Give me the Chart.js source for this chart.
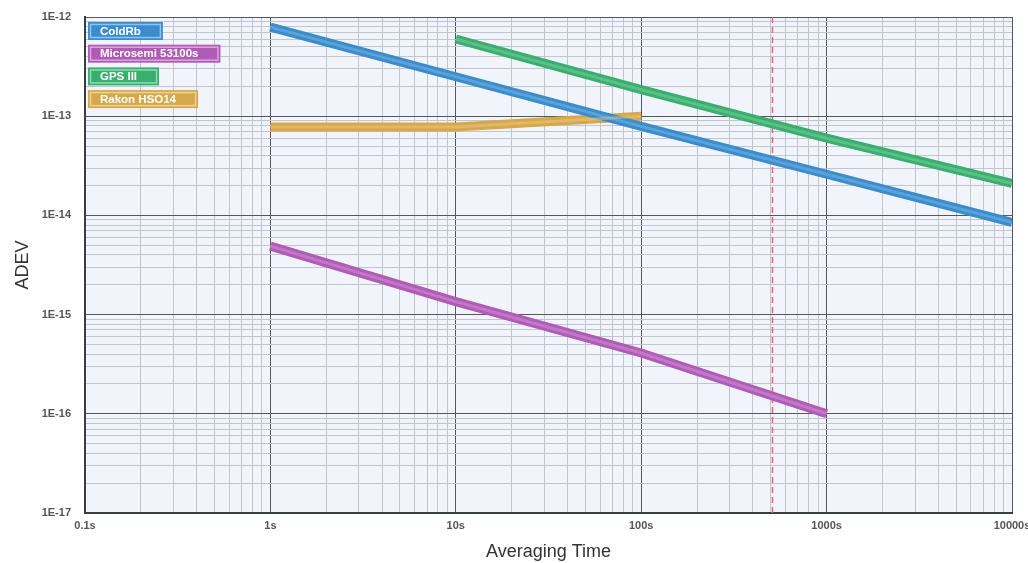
<!DOCTYPE html>
<html>
<head>
<meta charset="utf-8">
<script src="https://cdn.jsdelivr.net/npm/chart.js@4/dist/chart.umd.min.js"></script>
<style>
  html, body { margin: 0; padding: 0; background: #fff; }
  #wrap { width: 1028px; height: 563px; }
</style>
</head>
<body>
<div id="wrap"><canvas id="adevChart" width="1028" height="563"></canvas></div>
<script>
// averaging times (s) and ADEV values
const coldRbTau = [1, 10, 100, 1000, 10000];
const coldRbAdev = [7.9e-13, 2.5e-13, 7.9e-14, 2.6e-14, 8.5e-15];

const microsemiTau = [1, 10, 100, 1000];
const microsemiAdev = [4.9e-15, 1.35e-15, 4.1e-16, 1.0e-16];

const gpsTau = [10, 100, 1000, 10000];
const gpsAdev = [6.0e-13, 1.85e-13, 6.0e-14, 2.1e-14];

const rakonTau = [1, 10, 100];
const rakonAdev = [7.8e-14, 7.8e-14, 1.0e-13];

const markerTau = [500];

const xDecades = [0.1, 1, 10, 100, 1000, 10000];
const xTickLabels = ['0.1s', '1s', '10s', '100s', '1000s', '10000s'];
const yDecades = [1e-17, 1e-16, 1e-15, 1e-14, 1e-13, 1e-12];
const yTickLabels = ['1E-17', '1E-16', '1E-15', '1E-14', '1E-13', '1E-12'];

function toPoints(xs, ys){
  return xs.map((x, i) => ({ x: x, y: ys[i] }));
}

function isDecade(v){
  const l = Math.log10(v);
  return Math.abs(l - Math.round(l)) < 1e-6;
}

// decades plus 2..9 sub-ticks
function logTicks(decades){
  const out = [];
  decades.forEach((d, i) => {
    out.push({ value: d });
    if(i < decades.length - 1){
      for(let k = 2; k <= 9; k++) out.push({ value: +(d * k).toPrecision(6) });
    }
  });
  return out;
}

function makeSet(label, color, light, xs, ys){
  return {
    label: label, data: toPoints(xs, ys),
    borderColor: color, backgroundColor: color, lightColor: light,
    borderWidth: 9, pointRadius: 0, tension: 0, fill: false, borderCapStyle: 'butt'
  };
}

// plot background + dashed marker
const plotBg = {
  id: 'plotBg',
  beforeDraw(chart){
    const a = chart.chartArea, c = chart.ctx;
    c.save();
    c.fillStyle = '#f1f5fb';
    c.fillRect(a.left, a.top, a.right - a.left, a.bottom - a.top);
    c.restore();
  },
  beforeDatasetsDraw(chart){
    const a = chart.chartArea, c = chart.ctx, xs = chart.scales.x;
    c.save();
    c.strokeStyle = '#ee5f70';
    c.lineWidth = 1.5;
    c.setLineDash([6, 4]);
    markerTau.forEach(t => {
      const px = Math.round(xs.getPixelForValue(t)) + 1.5;
      c.beginPath(); c.moveTo(px, a.top); c.lineTo(px, a.bottom); c.stroke();
    });
    c.restore();
  }
};

// lighter core along each line + boxed legend
const lineCore = {
  id: 'lineCore',
  afterDatasetsDraw(chart){
    const c = chart.ctx;
    c.save();
    chart.data.datasets.forEach((ds, i) => {
      const pts = chart.getDatasetMeta(i).data;
      c.strokeStyle = ds.lightColor;
      c.lineWidth = 3;
      c.globalAlpha = 0.4;
      c.beginPath();
      pts.forEach((p, j) => j ? c.lineTo(p.x, p.y) : c.moveTo(p.x, p.y));
      c.stroke();
    });
    c.restore();
  },
  afterDraw(chart){
    const c = chart.ctx, a = chart.chartArea;
    c.save();
    c.font = 'bold 11.5px "Liberation Sans", Arial, sans-serif';
    c.textBaseline = 'middle';
    chart.data.datasets.forEach((ds, i) => {
      const x = a.left + 3, y = a.top + 5 + i * 22.7, h = 18;
      const w = c.measureText(ds.label).width + 34;
      c.fillStyle = ds.borderColor;
      c.fillRect(x, y, w, h);
      c.strokeStyle = ds.lightColor;
      c.lineWidth = 1.5;
      c.strokeRect(x + 2.5, y + 2.5, w - 5, h - 5);
      c.fillStyle = '#ffffff';
      c.fillText(ds.label, x + 12, y + h / 2 + 0.5);
    });
    c.restore();
  }
};

const tickFont = { family: '"Liberation Sans Narrow", "Arial Narrow", "Liberation Sans", sans-serif', size: 11, weight: 'bold' };
const gridColor = ctx => (ctx.tick && isDecade(ctx.tick.value)) ? '#55585e' : '#c0c6cf';

const ctx = document.getElementById('adevChart').getContext('2d');
new Chart(ctx, {
  type: 'line',
  data: {
    datasets: [
      makeSet('ColdRb', '#3b8ccc', '#8cc4ee', coldRbTau, coldRbAdev),
      makeSet('Microsemi 53100s', '#b05cb6', '#dca4e0', microsemiTau, microsemiAdev),
      makeSet('GPS III', '#3aae6e', '#8edcb0', gpsTau, gpsAdev),
      makeSet('Rakon HSO14', '#d6a84c', '#f0d28e', rakonTau, rakonAdev)
    ]
  },
  options: {
    responsive: false,
    animation: false,
    layout: { padding: { top: 17, right: 16, left: 0, bottom: 0 } },
    plugins: { legend: { display: false }, tooltip: { enabled: false } },
    scales: {
      x: {
        type: 'logarithmic', min: 0.1, max: 10000,
        afterBuildTicks: s => { s.ticks = logTicks(xDecades); },
        afterFit: s => { s.height = 50; s.paddingRight = 0; s.paddingLeft = 0; },
        ticks: {
          autoSkip: false, maxRotation: 0, color: '#555', font: tickFont, padding: 6,
          callback: v => { const i = xDecades.indexOf(v); return i >= 0 ? xTickLabels[i] : ''; }
        },
        grid: { color: gridColor, lineWidth: 1, drawTicks: false },
        border: { display: true, color: '#3a3d42', width: 2 },
        title: { display: true, text: 'Averaging Time', color: '#333', font: { family: '"Liberation Sans", Arial, sans-serif', size: 18 }, padding: { top: 2, bottom: 0 } }
      },
      y: {
        type: 'logarithmic', min: 1e-17, max: 1e-12,
        afterBuildTicks: s => { s.ticks = logTicks(yDecades); },
        afterFit: s => { s.width = 85; s.paddingTop = 0; s.paddingBottom = 0; },
        ticks: {
          autoSkip: false, color: '#555', font: tickFont, padding: 14,
          callback: v => { const i = yDecades.findIndex(d => Math.abs(d - v) / d < 1e-6); return i >= 0 ? yTickLabels[i] : ''; }
        },
        grid: { color: gridColor, lineWidth: 1, drawTicks: false },
        border: { display: true, color: '#3a3d42', width: 2 },
        title: { display: true, text: 'ADEV', color: '#333', font: { family: '"Liberation Sans", Arial, sans-serif', size: 18 }, padding: { top: 12, bottom: 0 } }
      }
    }
  },
  plugins: [plotBg, lineCore]
});
</script>
</body>
</html>
